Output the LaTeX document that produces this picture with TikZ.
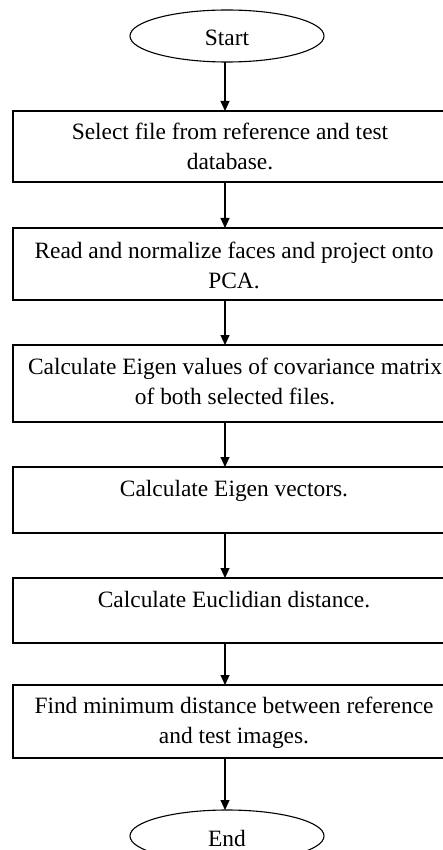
\documentclass[tikz,border=0pt]{standalone}
\usepackage{fontspec}
\setmainfont{Liberation Serif}
\usetikzlibrary{arrows.meta,shapes.geometric}
\begin{document}
\begin{tikzpicture}[x=1pt,y=-1pt,
  every node/.style={inner sep=0pt, outer sep=0pt},
  stepbox/.style={draw, line width=1.1pt, rectangle, minimum width=433pt},
  term/.style={draw, line width=1.1pt, ellipse, minimum width=194pt, minimum height=52pt,
    text height=20pt, text depth=0pt, font=\fontsize{23.4}{30}\selectfont},
  txt/.style={anchor=base, font=\fontsize{23.4}{30}\selectfont},
  flow/.style={line width=1.1pt, -{Triangle[length=10pt,width=9pt]}}]
\useasboundingbox (0,0) rectangle (443,850);
\clip (0,0) rectangle (443,850);

% column along which all connectors run
\coordinate (col) at (225,0);

% terminals
\node[term] (start) at (227,36) {Start};
\node[term] (stop) at (227,836) {End};

% process boxes
\node[stepbox, minimum height=71pt] (b1) at (229.5,146.5) {};
\node[stepbox, minimum height=72pt] (b2) at (229.5,264) {};
\node[stepbox, minimum height=77pt] (b3) at (229.5,383.5) {};
\node[stepbox, minimum height=66pt] (b4) at (229.5,500) {};
\node[stepbox, minimum height=65pt] (b5) at (229.5,610.5) {};
\node[stepbox, minimum height=73pt] (b6) at (229.5,721.5) {};

% box texts
\node[txt] (t1a) at (230,140) {Select file from reference and test};
\node[txt] (t1b) at (230,170) {database.};
\node[txt] (t2a) at (234,258) {Read and normalize faces and project onto};
\node[txt] (t2b) at (234,288) {PCA.};
\node[txt] (t3a) at (235,374) {Calculate Eigen values of covariance matrix};
\node[txt] (t3b) at (235,404) {of both selected files.};
\node[txt] (t4a) at (234,496) {Calculate Eigen vectors.};
\node[txt] (t5a) at (234,607) {Calculate Euclidian distance.};
\node[txt] (t6a) at (234,713) {Find minimum distance between reference};
\node[txt] (t6b) at (234,743) {and test images.};

% connectors
\draw[flow] (start.south -| col) -- (b1.north -| col);
\draw[flow] (b1.south -| col) -- (b2.north -| col);
\draw[flow] (b2.south -| col) -- (b3.north -| col);
\draw[flow] (b3.south -| col) -- (b4.north -| col);
\draw[flow] (b4.south -| col) -- (b5.north -| col);
\draw[flow] (b5.south -| col) -- (b6.north -| col);
\draw[flow] (b6.south -| col) -- (stop.north -| col);
\end{tikzpicture}
\end{document}
